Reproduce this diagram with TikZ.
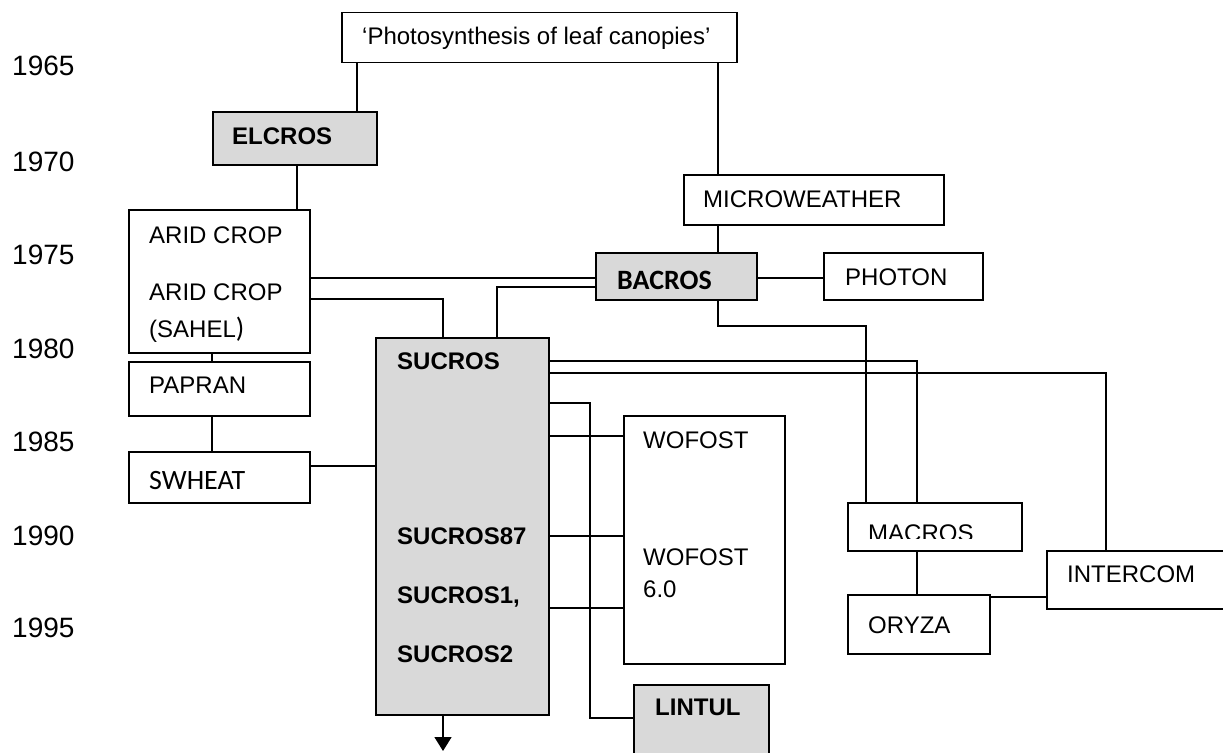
\documentclass[tikz,border=0pt]{standalone}
\usepackage{fontspec}
\setmainfont{Liberation Sans}
\newfontfamily\carlito{Carlito}
\usetikzlibrary{positioning,arrows.meta}
\definecolor{modelgray}{HTML}{D9D9D9}

\begin{document}
\begin{tikzpicture}[
        x=1pt, y=-1pt,
        box/.style={draw, line width=1.5pt, inner sep=0pt, anchor=north west},
        core/.style={box, fill=modelgray},
        lbl/.style={anchor=base west, inner sep=0pt, font=\fontsize{24}{28}\selectfont},
        blbl/.style={lbl, font=\fontsize{24}{28}\selectfont\bfseries},
        clbl/.style={lbl, font=\carlito\fontsize{28}{32}\selectfont},
        yearlbl/.style={anchor=base west, inner sep=0pt, font=\fontsize{28}{32}\selectfont},
        link/.style={line width=1.5pt},
    ]
    \useasboundingbox (0,0) rectangle (1223,752);
    \clip (0,0) rectangle (1223,752);

    \foreach \yr/\yb in {1965/75, 1970/171, 1975/264, 1980/358, 1985/451, 1990/545, 1995/637}
        \node[yearlbl] (y\yr) at (12,\yb) {\yr};

    \node[box, minimum width=395pt, minimum height=50pt] (photo) at (341,12) {};
    \node[core, minimum width=164pt, minimum height=53pt] (elcros) at (212,111) {};
    \node[box, minimum width=260pt, minimum height=50pt] (micro) at (683,174) {};
    \node[box, minimum width=181pt, minimum height=143pt] (arid) at (128,209) {};
    \node[box, minimum width=181pt, minimum height=54pt] (papran) at (128,361) {};
    \node[box, minimum width=181pt, minimum height=51pt] (swheat) at (128,451) {};
    \node[core, minimum width=161pt, minimum height=47pt] (bacros) at (595,252) {};
    \node[box, minimum width=159pt, minimum height=47pt] (photon) at (823,252) {};
    \node[core, minimum width=173pt, minimum height=377pt] (sucros) at (375,337) {};
    \node[box, minimum width=161pt, minimum height=248pt] (wofost) at (623,415) {};
    \node[core, minimum width=135pt, minimum height=80pt] (lintul) at (633,684) {};
    \node[box, minimum width=174pt, minimum height=48pt] (macros) at (847,502) {};
    \node[box, minimum width=142pt, minimum height=59pt] (oryza) at (847,594) {};
    \node[box, minimum width=190pt, minimum height=58pt] (intercom) at (1046,550) {};

    \node[lbl] (photo-t) at (362,45) {‘Photosynthesis of leaf canopies’};
    \node[blbl] (elcros-t) at (232,144) {ELCROS};
    \node[lbl] (micro-t) at (703,207) {MICROWEATHER};
    \node[lbl] (arid-t) at (149,243) {ARID CROP};
    \node[lbl] (sahel-t) at (149,300) {ARID CROP};
    \node[lbl] (sahel-t2) at (149,337) {(SAHEL{\carlito\fontsize{28}{32}\selectfont )}};
    \node[lbl] (papran-t) at (149,393) {PAPRAN};
    \node[clbl] (swheat-t) at (149,489) {SWHEAT};
    \node[clbl, font=\carlito\fontsize{28}{32}\selectfont\bfseries] (bacros-t) at (617,289) {BACROS};
    \node[lbl] (photon-t) at (845,285) {PHOTON};
    \node[blbl] (sucros-t) at (397,369) {SUCROS};
    \node[blbl] (sucros87-t) at (397,544) {SUCROS87};
    \node[blbl] (sucros1-t) at (397,603) {SUCROS1,};
    \node[blbl] (sucros2-t) at (397,662) {SUCROS2};
    \node[lbl] (wofost-t) at (643,448) {WOFOST};
    \node[lbl] (wofost6-t) at (643,565) {WOFOST};
    \node[lbl] (wofost6-t2) at (643,597) {6.0};
    \node[blbl] (lintul-t) at (655,715) {LINTUL};
    \begin{scope}
        \clip (847,502) rectangle (1021,538);
        \node[lbl] (macros-t) at (868,541) {MACROS};
    \end{scope}
    \node[lbl] (oryza-t) at (868,633) {ORYZA};
    \node[lbl] (intercom-t) at (1067,582) {INTERCOM};

    \coordinate (v1) at (357,0);
    \coordinate (v2) at (718,0);
    \coordinate (v3) at (297,0);
    \coordinate (v4) at (212,0);
    \coordinate (v5) at (443,0);
    \coordinate (v6) at (497,0);
    \coordinate (v7) at (866,0);
    \coordinate (v8) at (917,0);
    \coordinate (v9) at (1106,0);
    \coordinate (v10) at (590,0);
    \coordinate (h1) at (0,278);
    \coordinate (h2) at (0,299);
    \coordinate (h3) at (0,287);
    \coordinate (h4) at (0,326);
    \coordinate (h5) at (0,361);
    \coordinate (h6) at (0,373);
    \coordinate (h7) at (0,466);
    \coordinate (h8) at (0,403);
    \coordinate (h9) at (0,718);
    \coordinate (h13) at (0,597);
    \coordinate (out) at (443,751);

    \draw[link] (photo.south -| v1) -- (elcros.north -| v1);
    \draw[link] (photo.south -| v2) -- (micro.north -| v2);
    \draw[link] (elcros.south -| v3) -- (arid.north -| v3);
    \draw[link] (micro.south -| v2) -- (bacros.north -| v2);
    \draw[link] (arid.east |- h1) -- (bacros.west |- h1);
    \draw[link] (bacros.east |- h1) -- (photon.west |- h1);
    \draw[link] (arid.east |- h2) -| (sucros.north -| v5);
    \draw[link] (bacros.west |- h3) -| (sucros.north -| v6);
    \draw[link] (bacros.south -| v2) |- (h4 -| v7) -- (macros.north -| v7);
    \draw[link] (sucros.east |- h5) -| (macros.north -| v8);
    \draw[link] (sucros.east |- h6) -| (intercom.north -| v9);
    \draw[link] (sucros.east |- h8) -| (h9 -| v10) -- (lintul.west |- h9);
    \foreach \r in {436, 536, 608}
        \draw[link] (sucros.east |- 0,\r) -- (wofost.west |- 0,\r);
    \draw[link] (swheat.east |- h7) -- (sucros.west |- h7);
    \draw[link] (arid.south -| v4) -- (papran.north -| v4);
    \draw[link] (papran.south -| v4) -- (swheat.north -| v4);
    \draw[link] (macros.south -| v8) -- (oryza.north -| v8);
    \draw[link] (oryza.east |- h13) -- (intercom.west |- h13);
    \draw[link, -{Triangle[length=14pt, width=17pt]}] (sucros.south -| v5) -- (out);
\end{tikzpicture}
\end{document}
